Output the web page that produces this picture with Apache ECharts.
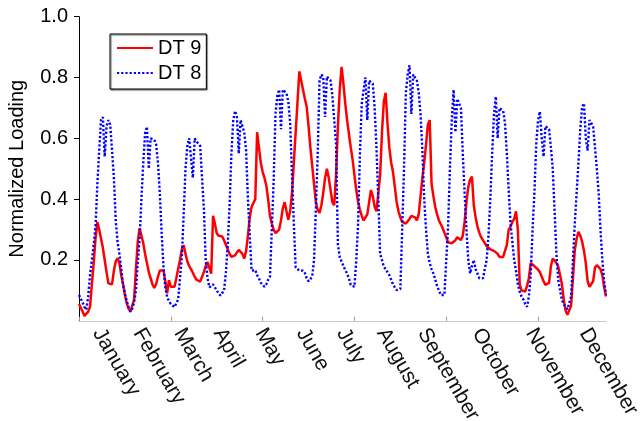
<!DOCTYPE html>
<html>
<head>
<meta charset="utf-8">
<script src="https://cdn.jsdelivr.net/npm/echarts@6/dist/echarts.min.js"></script>
<style>
html,body{margin:0;padding:0;background:#fff;}
#chart{width:641px;height:421px;}
</style>
</head>
<body>
<div id="chart"></div>
<script>
// Month names (x-axis category labels)
const months = ['January','February','March','April','May','June','July','August','September','October','November','December'];
// Where each month label sits along the hourly x scale (0..287)
const monthLabelAt = [10.1, 32.1, 54.4, 75.9, 98.6, 121.1, 142.9, 164.8, 187.1, 216.7, 245.9, 275.1];
// x tick marks (hour index)
const xTicks = [0, 50, 100, 150, 200, 250];

// DT 9: 24 hourly values per month
const dt9Jan = [0.055,0.049,0.03,0.016,0.016,0.03,0.046,0.12,0.19,0.27,0.325,0.3,0.27,0.24,0.2,0.16,0.123,0.118,0.12,0.165,0.195,0.206,0.19,0.15];
const dt9Feb = [0.12,0.085,0.058,0.04,0.03,0.035,0.07,0.17,0.26,0.305,0.28,0.255,0.22,0.19,0.16,0.14,0.12,0.108,0.12,0.145,0.165,0.167,0.165,0.13];
const dt9Mar = [0.09,0.134,0.112,0.11,0.112,0.14,0.17,0.2,0.235,0.248,0.22,0.195,0.18,0.17,0.158,0.145,0.135,0.129,0.129,0.135,0.16,0.18,0.193,0.19];
const dt9Apr = [0.155,0.345,0.32,0.288,0.28,0.278,0.277,0.265,0.25,0.235,0.22,0.21,0.206,0.215,0.225,0.233,0.233,0.22,0.205,0.23,0.28,0.34,0.375,0.381];
const dt9May = [0.4,0.62,0.57,0.52,0.49,0.47,0.445,0.4,0.345,0.32,0.3,0.288,0.29,0.3,0.33,0.37,0.39,0.36,0.332,0.36,0.42,0.52,0.62,0.72];
const dt9Jun = [0.82,0.79,0.76,0.73,0.704,0.64,0.57,0.51,0.45,0.39,0.365,0.355,0.38,0.42,0.47,0.5,0.47,0.43,0.39,0.38,0.48,0.64,0.76,0.835];
const dt9Jul = [0.78,0.715,0.66,0.615,0.57,0.53,0.48,0.43,0.39,0.365,0.345,0.33,0.33,0.35,0.39,0.43,0.41,0.375,0.36,0.355,0.48,0.62,0.72,0.75];
const dt9Aug = [0.65,0.57,0.52,0.49,0.44,0.39,0.36,0.34,0.325,0.32,0.32,0.325,0.335,0.345,0.35,0.34,0.33,0.35,0.41,0.47,0.52,0.58,0.645,0.66];
const dt9Sep = [0.45,0.41,0.375,0.35,0.33,0.318,0.305,0.29,0.275,0.258,0.255,0.255,0.256,0.265,0.275,0.275,0.266,0.28,0.325,0.39,0.44,0.465,0.474,0.38];
const dt9Oct = [0.34,0.31,0.29,0.275,0.265,0.256,0.245,0.24,0.235,0.233,0.23,0.23,0.22,0.21,0.206,0.21,0.206,0.25,0.3,0.31,0.325,0.335,0.36,0.3];
const dt9Nov = [0.12,0.1,0.095,0.096,0.115,0.14,0.19,0.195,0.18,0.175,0.168,0.16,0.145,0.13,0.118,0.118,0.125,0.18,0.205,0.2,0.19,0.178,0.15,0.12];
const dt9Dec = [0.07,0.033,0.02,0.025,0.05,0.14,0.233,0.27,0.293,0.28,0.26,0.23,0.19,0.13,0.112,0.107,0.13,0.175,0.183,0.184,0.17,0.15,0.11,0.08];

// DT 8: 24 hourly values per month
const dt8Jan = [0.085,0.079,0.06,0.045,0.036,0.08,0.15,0.2,0.25,0.31,0.45,0.56,0.66,0.67,0.54,0.64,0.66,0.645,0.56,0.47,0.33,0.26,0.22,0.17];
const dt8Feb = [0.12,0.09,0.065,0.045,0.03,0.04,0.06,0.1,0.19,0.27,0.4,0.52,0.617,0.638,0.5,0.6,0.6,0.595,0.58,0.52,0.42,0.29,0.18,0.11];
const dt8Mar = [0.078,0.065,0.055,0.05,0.045,0.041,0.07,0.14,0.21,0.35,0.5,0.575,0.6,0.605,0.47,0.6,0.59,0.585,0.575,0.47,0.37,0.2,0.14,0.11];
const dt8Apr = [0.105,0.12,0.11,0.1,0.09,0.083,0.079,0.1,0.16,0.25,0.38,0.55,0.66,0.69,0.67,0.55,0.66,0.64,0.62,0.56,0.4,0.28,0.165,0.16];
const dt8May = [0.167,0.15,0.14,0.125,0.12,0.112,0.12,0.135,0.145,0.3,0.46,0.68,0.74,0.76,0.63,0.76,0.755,0.748,0.72,0.65,0.48,0.32,0.175,0.17];
const dt8Jun = [0.165,0.17,0.165,0.157,0.14,0.13,0.135,0.145,0.2,0.37,0.55,0.79,0.81,0.803,0.67,0.803,0.8,0.79,0.74,0.66,0.58,0.25,0.21,0.195];
const dt8Jul = [0.18,0.167,0.155,0.14,0.118,0.112,0.112,0.2,0.32,0.55,0.715,0.76,0.8,0.66,0.79,0.785,0.78,0.7,0.57,0.4,0.22,0.2,0.178,0.17];
const dt8Aug = [0.16,0.15,0.135,0.12,0.11,0.101,0.1,0.105,0.3,0.5,0.75,0.81,0.84,0.68,0.81,0.8,0.79,0.75,0.68,0.56,0.4,0.3,0.22,0.19];
const dt8Sep = [0.17,0.156,0.135,0.115,0.1,0.085,0.079,0.085,0.2,0.31,0.5,0.66,0.76,0.62,0.73,0.715,0.7,0.55,0.42,0.3,0.2,0.156,0.18,0.2];
const dt8Oct = [0.17,0.155,0.14,0.135,0.14,0.17,0.2,0.28,0.4,0.55,0.68,0.737,0.6,0.7,0.7,0.69,0.65,0.55,0.43,0.32,0.26,0.2,0.165,0.12];
const dt8Nov = [0.095,0.08,0.07,0.055,0.046,0.08,0.15,0.3,0.42,0.58,0.66,0.688,0.6,0.54,0.64,0.645,0.63,0.57,0.5,0.36,0.22,0.134,0.1,0.068];
const dt8Dec = [0.055,0.045,0.038,0.04,0.08,0.2,0.32,0.42,0.52,0.63,0.704,0.715,0.6,0.56,0.66,0.65,0.638,0.57,0.5,0.42,0.3,0.2,0.13,0.085];

const dt9 = [].concat(dt9Jan,dt9Feb,dt9Mar,dt9Apr,dt9May,dt9Jun,dt9Jul,dt9Aug,dt9Sep,dt9Oct,dt9Nov,dt9Dec);
const dt8 = [].concat(dt8Jan,dt8Feb,dt8Mar,dt8Apr,dt8May,dt8Jun,dt8Jul,dt8Aug,dt8Sep,dt8Oct,dt8Nov,dt8Dec);

const FONT = '"Liberation Sans", Arial, Helvetica, sans-serif';
const chart = echarts.init(document.getElementById('chart'), null, {renderer: 'canvas'});
chart.setOption({
  animation: false,
  backgroundColor: '#fff',
  textStyle: {fontFamily: FONT},
  grid: {left: 79, right: 35, top: 16.7, bottom: 100.2, containLabel: false, outerBoundsMode: 'none'},
  legend: {
    data: ['DT 9', 'DT 8'],
    orient: 'vertical',
    left: 110, top: 34,
    backgroundColor: '#fff',
    borderColor: '#000', borderWidth: 1,
    shadowColor: 'rgba(0,0,0,0.6)', shadowOffsetX: 1, shadowOffsetY: 1, shadowBlur: 1,
    padding: [4, 5, 6, 6],
    itemGap: 5, itemWidth: 36, itemHeight: 20,
    itemStyle: {color: 'rgba(0,0,0,0)', borderColor: 'rgba(0,0,0,0)', borderWidth: 0},
    textStyle: {fontSize: 20, color: '#000', fontFamily: FONT}
  },
  xAxis: {
    type: 'value', min: 0, max: 287,
    axisLine: {show: true, lineStyle: {color: '#c8c8c8', width: 1}},
    axisTick: {show: true, inside: true, length: 4, customValues: xTicks, lineStyle: {color: '#999'}},
    axisLabel: {
      show: true, customValues: monthLabelAt, rotate: -60, margin: 9,
      fontSize: 21, color: '#111', fontFamily: FONT,
      formatter: function (v) { const k = monthLabelAt.indexOf(v); return k >= 0 ? months[k] : ''; }
    },
    splitLine: {show: false}
  },
  yAxis: {
    type: 'value', min: 0, max: 1, interval: 0.2,
    name: 'Normalized Loading', nameLocation: 'middle', nameGap: 52, nameRotate: 90,
    nameTextStyle: {fontSize: 20, color: '#000', fontFamily: FONT},
    axisLine: {show: true, lineStyle: {color: '#000', width: 1}},
    axisTick: {show: true, inside: false, length: 5, lineStyle: {color: '#000'}},
    axisLabel: {
      showMinLabel: false, margin: 11, fontSize: 20, color: '#000', fontFamily: FONT,
      formatter: function (v) { return v.toFixed(1); }
    },
    splitLine: {show: false}
  },
  series: [
    {
      name: 'DT 9', type: 'line', showSymbol: false, symbol: 'none',
      data: dt9.map((v, i) => [i, v]),
      lineStyle: {color: '#ff0000', width: 2.5},
      itemStyle: {color: '#ff0000'}
    },
    {
      name: 'DT 8', type: 'line', showSymbol: false, symbol: 'none',
      data: dt8.map((v, i) => [i, v]),
      lineStyle: {color: '#0000ff', width: 2.4, type: [2.2, 2]},
      itemStyle: {color: '#0000ff'}
    }
  ]
});
</script>
</body>
</html>
